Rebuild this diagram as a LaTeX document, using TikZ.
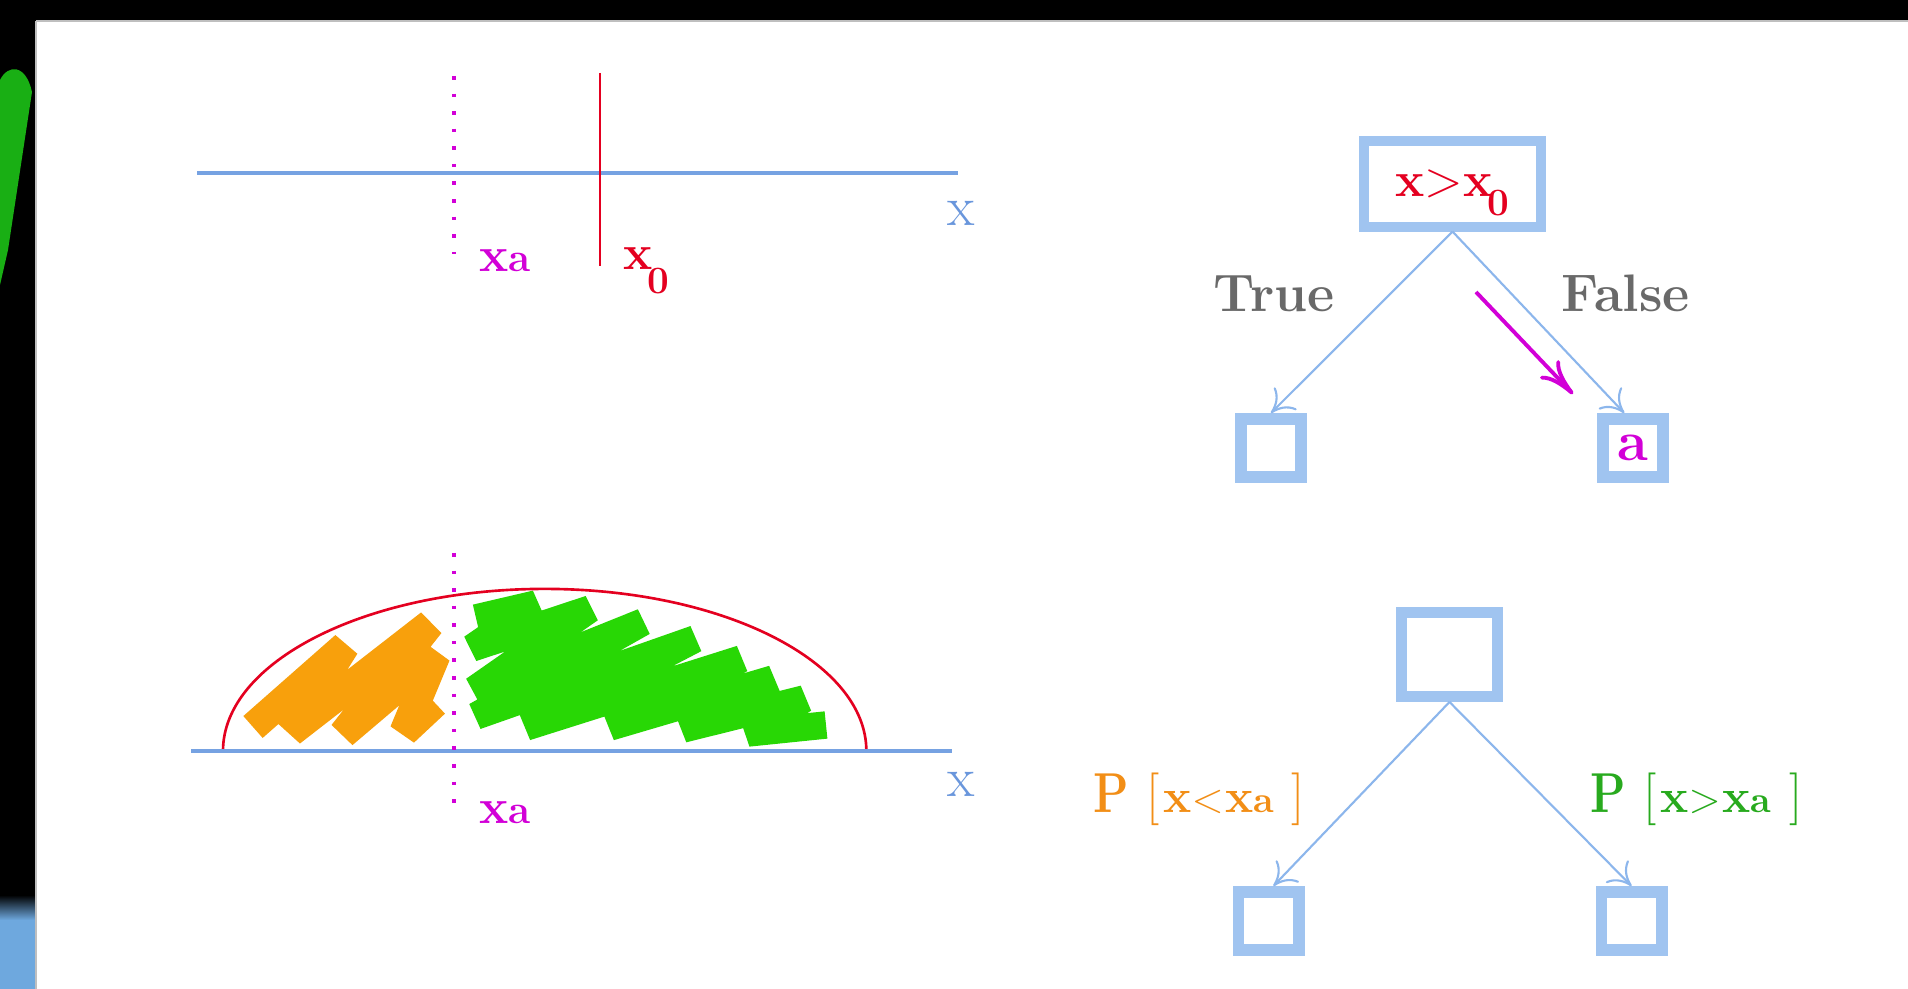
\documentclass[tikz,border=0pt]{standalone}
\usepackage{fontspec}
\usetikzlibrary{arrows.meta}
\definecolor{boxblue}{RGB}{160,196,240}
\definecolor{edgeblue}{RGB}{140,182,236}
\definecolor{axisblue}{RGB}{118,162,226}
\definecolor{labblue}{RGB}{105,150,220}
\definecolor{mag}{RGB}{210,0,215}
\definecolor{redc}{RGB}{228,0,32}
\definecolor{orangef}{RGB}{248,160,12}
\definecolor{orangeT}{RGB}{242,142,22}
\definecolor{greenf}{RGB}{40,215,5}
\definecolor{greenT}{RGB}{40,170,30}
\definecolor{greyT}{RGB}{105,105,105}
\definecolor{blobg}{RGB}{25,175,20}
\definecolor{patchb}{RGB}{110,168,222}
\newcommand{\plab}[1]{\scalebox{0.82}[1]{\fontsize{16}{16}\selectfont\bfseries P}\kern5pt{\fontsize{15}{15}\selectfont[}\kern1pt{\fontsize{13.5}{13.5}\selectfont\bfseries x}{\fontsize{12}{12}\selectfont\(\mathord{#1}\)}\kern0.5pt{\fontsize{13.5}{13.5}\selectfont\bfseries x}{\fontsize{10.5}{10.5}\selectfont\bfseries a}\kern5pt{\fontsize{15}{15}\selectfont]}}
\tikzset{
 axisline/.style={draw=axisblue,line width=1.3pt},
 dotline/.style={draw=mag,line width=1.2pt,dash pattern=on 1pt off 4pt},
 redline/.style={draw=redc,line width=0.75pt},
 treebox/.style={draw=boxblue,rectangle,inner sep=0pt},
 rootbox/.style={treebox,line width=2.85pt},
 leafbox/.style={treebox,line width=3.4pt,minimum width=0.60cm,minimum height=0.58cm},
 treeedge/.style={draw=edgeblue,line width=0.6pt,-{To[length=6pt,width=9pt]}},
 oband/.style={draw=orangef,line width=8.3pt,line cap=butt,line join=bevel},
 gband/.style={draw=greenf,line width=7.8pt,line cap=butt,line join=bevel},
 boldlab/.style={inner sep=0pt,font=\fontsize{14}{14}\selectfont\bfseries},
 plainlab/.style={inner sep=0pt,font=\fontsize{16}{16}\selectfont},
}
\begin{document}
\begin{tikzpicture}[x=0.01cm,y=-0.01cm]
\useasboundingbox (0,0) rectangle (1908,989);
\fill[white] (0,0) rectangle (1908,989);
% frame of the slide
\fill[black] (0,0) rectangle (1908,21);
\fill[black] (0,0) rectangle (36,989);
\fill[blobg] (0,80) .. controls (8,64) and (26,64) .. (32,92) -- (8,250) -- (0,285) -- cycle;
\shade[top color=black,bottom color=patchb] (0,895) rectangle (36,920);
\fill[patchb] (0,920) rectangle (36,989);
\draw[gray!50,line width=0.3pt] (36,21) -- (1908,21) (36,21) -- (36,989);

% ---------- top left panel ----------
\coordinate (axTl) at (197,173);
\coordinate (axTr) at (958,173);
\draw[axisline] (axTl) -- (axTr);
\coordinate (dTt) at (454,76);
\coordinate (dTb) at (454,254);
\draw[dotline] (dTt) -- (dTb);
\coordinate (rTt) at (600,73);
\coordinate (rTb) at (600,266);
\draw[redline] (rTt) -- (rTb);
\node[plainlab,text=labblue] (xT) at (961,213) {x};
\node[boldlab,text=mag] (xaT) at (505,261) {x\fontsize{11.5}{11.5}\selectfont a};
\node[boldlab,text=redc,anchor=base west] (x0T) at (623,270) {x\kern-1.5pt\raisebox{-6.8pt}{\fontsize{11}{11}\selectfont 0}};

% ---------- bottom left panel ----------
\draw[oband] (253,727) -- (345,646) -- (291,732) -- (430,624) -- (343,734) -- (436,655) -- (404,732) -- (435,703);
\draw[gband] (476,618) -- (536,604) -- (472,648) -- (590,609) -- (474,690) -- (643,622) -- (476,716) -- (695,639) -- (526,727) -- (741,659) -- (610,727) -- (773,679) -- (683,729) -- (804,699) -- (748,733) -- (826,725);
\coordinate (axBl) at (191,751);
\coordinate (axBr) at (952,751);
\coordinate (arcL) at (223,751);
\draw[redline] (arcL) arc[start angle=180,end angle=0,x radius=3.215cm,y radius=1.62cm];
\draw[axisline] (axBl) -- (axBr);
\coordinate (dBt) at (454,553);
\coordinate (dBb) at (454,806);
\draw[dotline] (dBt) -- (dBb);
\node[plainlab,text=labblue] (xB) at (961,784) {x};
\node[boldlab,text=mag] (xaB) at (505,813) {x\fontsize{11.5}{11.5}\selectfont a};

% ---------- top tree ----------
\node[rootbox,minimum width=1.77cm,minimum height=0.85cm,text=redc,font=\fontsize{14}{14}\selectfont\bfseries] (r1) at (1452.5,184) {x\(\mathord{>}\)x\kern-1.5pt\raisebox{-5.4pt}[0pt][0pt]{\fontsize{11}{11}\selectfont 0}};
\node[leafbox] (l1) at (1271,448) {};
\node[leafbox,text=mag,font=\fontsize{16}{16}\selectfont\bfseries] (r1r) at (1633,448) {a};
\draw[treeedge] (r1.south) -- (l1.north);
\draw[treeedge] (r1.south) -- ([xshift=-2.5pt]r1r.north);
\node[inner sep=0pt,anchor=base west,text=greyT,font=\fontsize{15}{15}\selectfont\bfseries] (tT) at (1213,312) {True};
\node[inner sep=0pt,anchor=base west,text=greyT,font=\fontsize{15}{15}\selectfont\bfseries] (tF) at (1561,312) {False};
\coordinate (ms) at (1476,292);
\coordinate (me) at (1573,394);
\draw[draw=mag,line width=1.1pt,-{To[length=10pt,width=7.5pt]}] (ms) -- (me);

% ---------- bottom tree ----------
\node[treebox,line width=3.1pt,minimum width=0.96cm,minimum height=0.84cm] (r2) at (1449.5,654.5) {};
\node[leafbox] (l2) at (1268.5,921) {};
\node[leafbox] (r2r) at (1631.5,921) {};
\draw[treeedge] (r2.south) -- ([xshift=1.4pt]l2.north);
\draw[treeedge] (r2.south) -- (r2r.north);
\node[inner sep=0pt,anchor=base west,text=orangeT] (pl) at (1093,813) {\plab{<}};
\node[inner sep=0pt,anchor=base west,text=greenT] (pr) at (1590,813) {\plab{>}};
\end{tikzpicture}
\end{document}
